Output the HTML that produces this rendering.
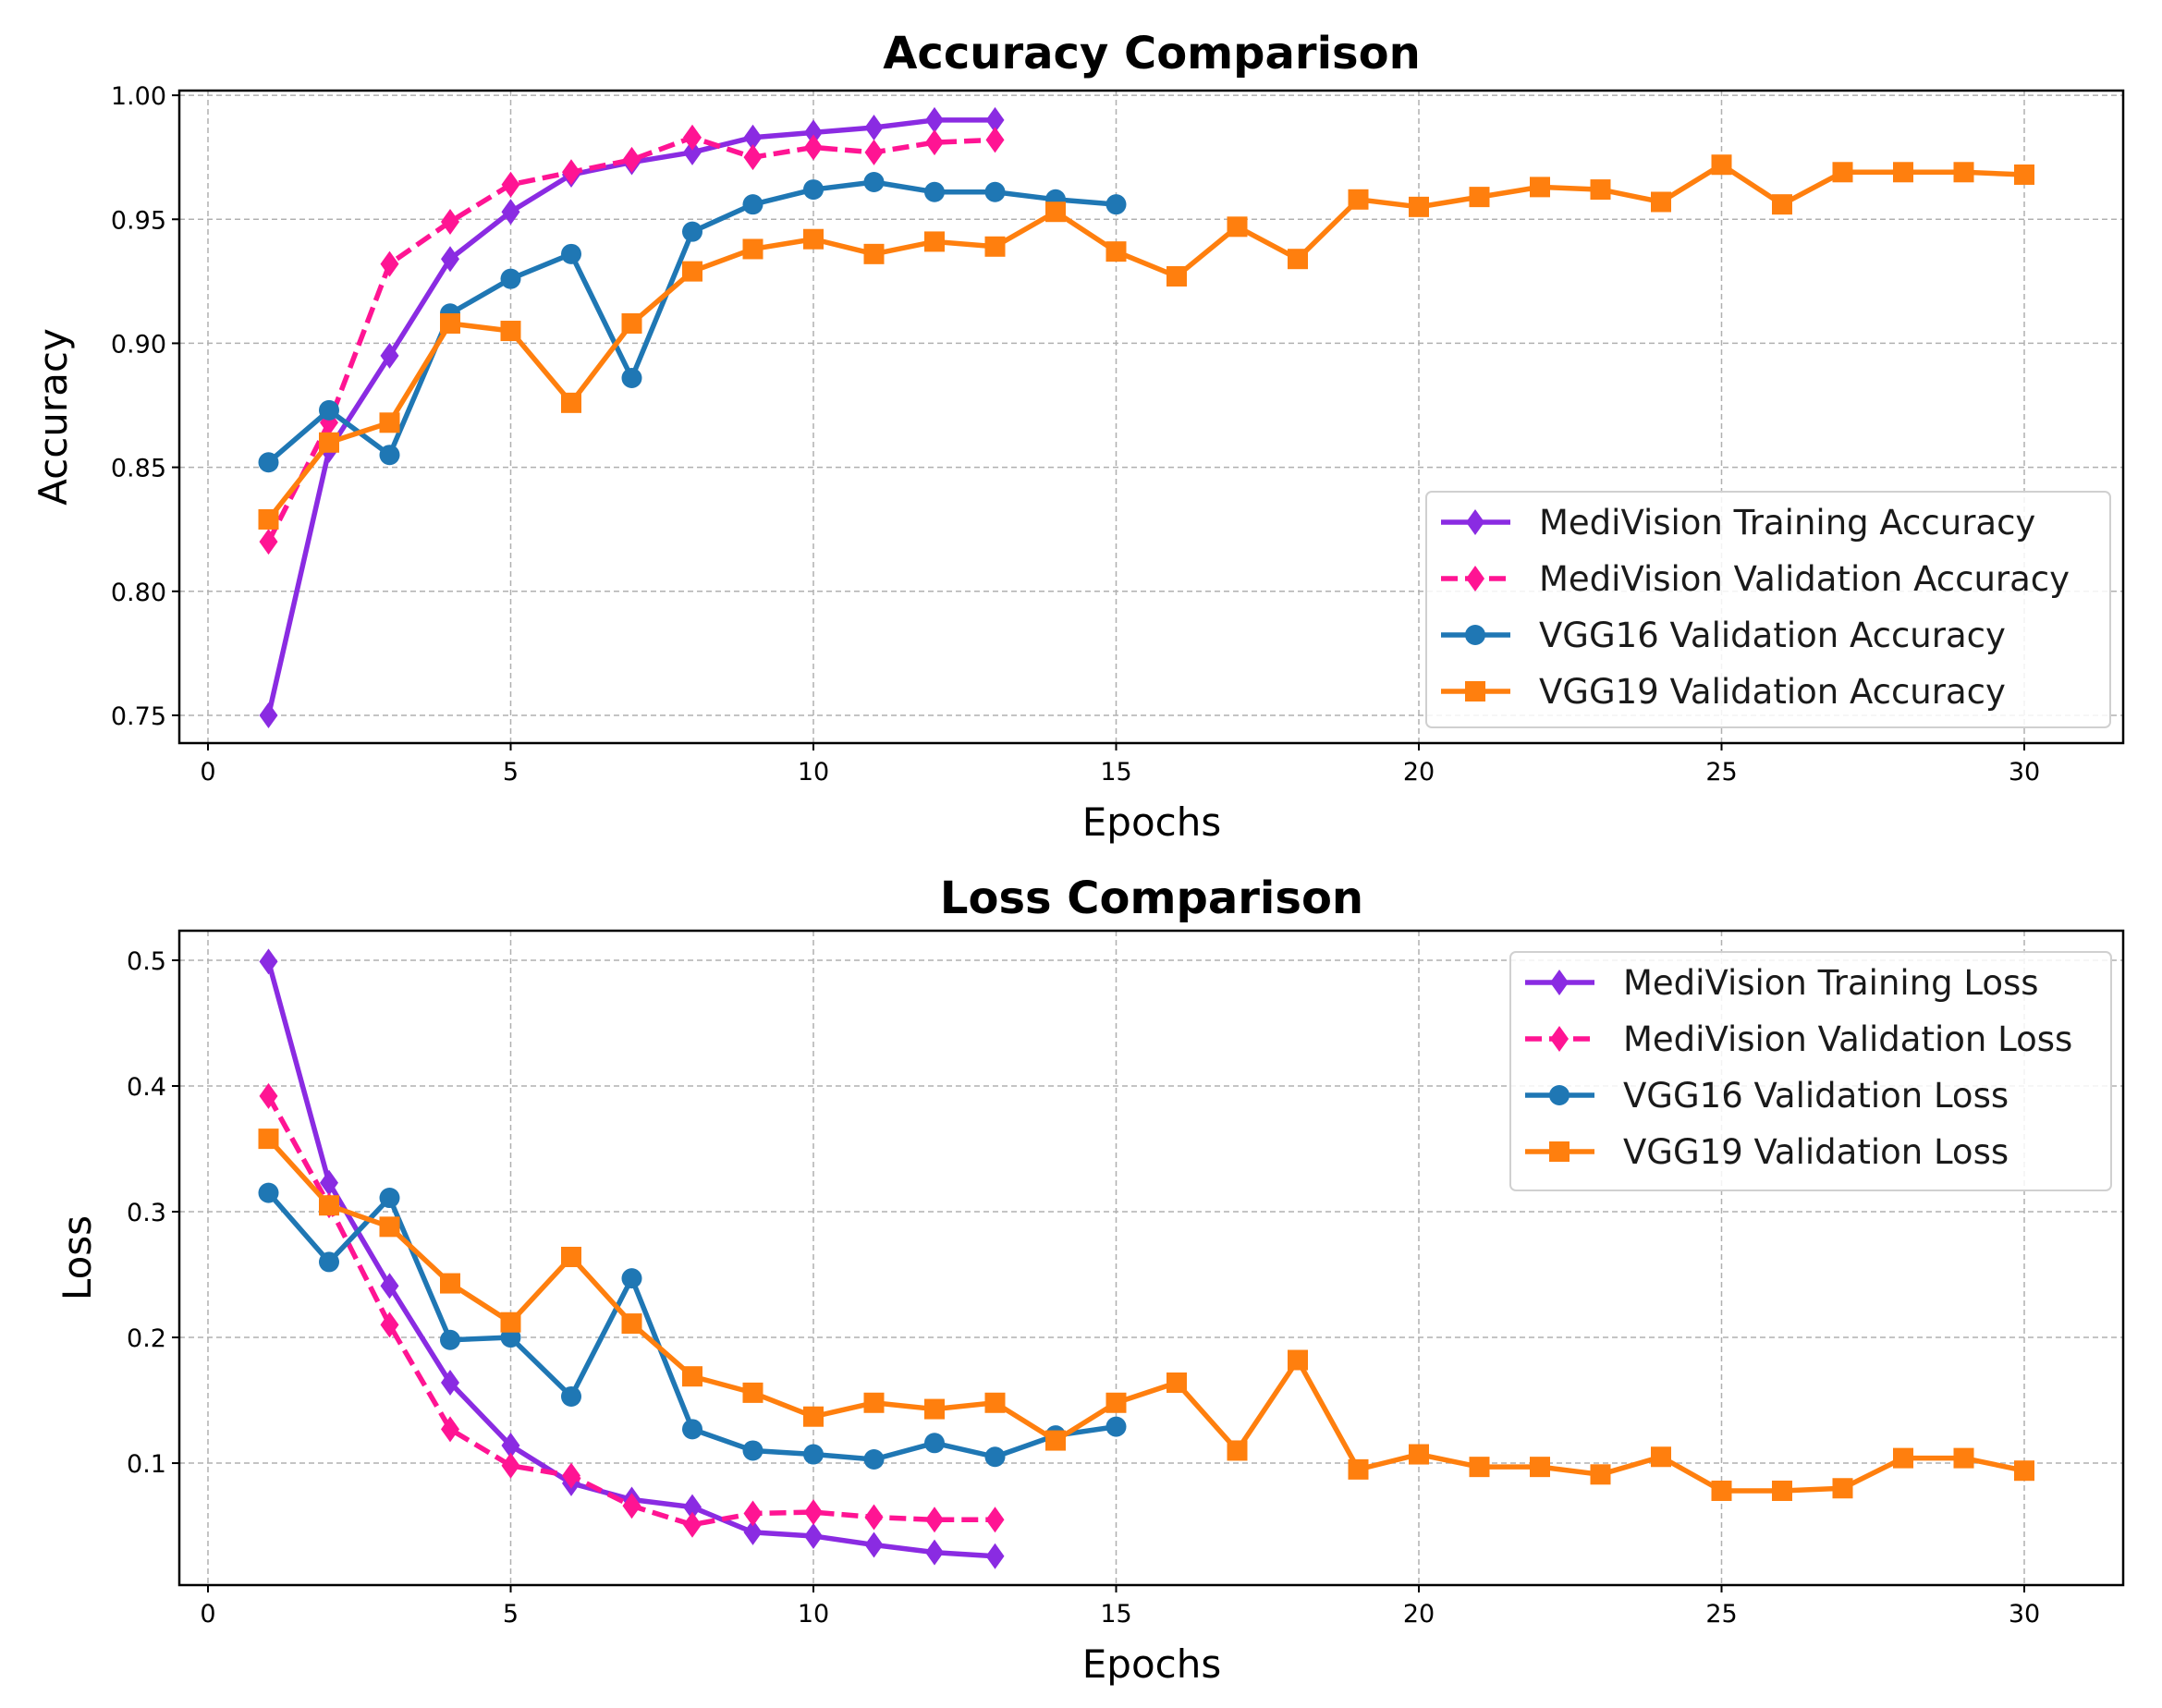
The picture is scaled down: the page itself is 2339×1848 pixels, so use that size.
<!DOCTYPE html>
<html><head><meta charset="utf-8"><style>
html,body{margin:0;padding:0;background:#fff;}
svg{display:block;font-family:"DejaVu Sans","Liberation Sans",sans-serif;}
</style></head><body>
<svg id="chart" width="2339" height="1848" viewBox="0 0 2339 1848" xmlns="http://www.w3.org/2000/svg"></svg>
<script>
const epochs30 = [1,2,3,4,5,6,7,8,9,10,11,12,13,14,15,16,17,18,19,20,21,22,23,24,25,26,27,28,29,30];
const xTicks = [0,5,10,15,20,25,30];
const accTicks = [0.75,0.80,0.85,0.90,0.95,1.00];
const accTickLabels = ["0.75","0.80","0.85","0.90","0.95","1.00"];
const lossTicks = [0.1,0.2,0.3,0.4,0.5];
const lossTickLabels = ["0.1","0.2","0.3","0.4","0.5"];
const mvTrainAcc = [0.750,0.857,0.895,0.934,0.953,0.968,0.973,0.977,0.983,0.985,0.987,0.990,0.990];
const mvValAcc = [0.820,0.868,0.932,0.949,0.964,0.969,0.974,0.983,0.975,0.979,0.977,0.981,0.982];
const vgg16Acc = [0.852,0.873,0.855,0.912,0.926,0.936,0.886,0.945,0.956,0.962,0.965,0.961,0.961,0.958,0.956];
const vgg19Acc = [0.829,0.860,0.868,0.908,0.905,0.876,0.908,0.929,0.938,0.942,0.936,0.941,0.939,0.953,0.937,0.927,0.947,0.934,0.958,0.955,0.959,0.963,0.962,0.957,0.972,0.956,0.969,0.969,0.969,0.968];
const mvTrainLoss = [0.499,0.323,0.241,0.164,0.114,0.084,0.071,0.065,0.045,0.042,0.035,0.029,0.026];
const mvValLoss = [0.392,0.305,0.210,0.127,0.098,0.090,0.066,0.051,0.060,0.061,0.057,0.055,0.055];
const vgg16Loss = [0.315,0.260,0.311,0.198,0.200,0.153,0.247,0.127,0.110,0.107,0.103,0.116,0.105,0.122,0.129];
const vgg19Loss = [0.358,0.305,0.288,0.243,0.212,0.264,0.211,0.169,0.156,0.137,0.148,0.143,0.148,0.118,0.148,0.164,0.110,0.182,0.095,0.107,0.097,0.097,0.091,0.105,0.078,0.078,0.080,0.104,0.104,0.094];

const NS = "http://www.w3.org/2000/svg";
const svg = document.getElementById('chart');
function mk(tag, attrs, parent, text){
  const e = document.createElementNS(NS, tag);
  for (const k in attrs) e.setAttribute(k, attrs[k]);
  if (text !== undefined) e.textContent = text;
  (parent||svg).appendChild(e);
  return e;
}
const L = 194, R = 2297;
const xs = e => 225 + 65.5*e;
const C = {train:'#8a2be2', val:'#ff1493', v16:'#1f77b4', v19:'#ff7f0e'};

function marker(g, type, x, y, color){
  let m;
  if (type==='d') m = mk('polygon',{points:`${x},${y-14} ${x+10},${y} ${x},${y+14} ${x-10},${y}`,fill:color},g);
  else if (type==='o') m = mk('circle',{cx:x,cy:y,r:11,fill:color},g);
  else m = mk('rect',{x:x-11,y:y-11,width:22,height:22,fill:color},g);
  return m;
}

function panel(cfg){
  const g = mk('g',{});
  
  
  const ys = v => cfg.top + (cfg.vmax - v)/(cfg.vmax - cfg.vmin)*(cfg.bottom-cfg.top);
  xTicks.forEach(t=>{
    const gl = mk('line',{x1:xs(t),x2:xs(t),y1:cfg.top,y2:cfg.bottom,stroke:'#b0b0b0','stroke-width':1.5,'stroke-dasharray':'6,4'},g);
    
    
  });
  cfg.ticks.forEach(t=>{
    const gl = mk('line',{x1:L,x2:R,y1:ys(t),y2:ys(t),stroke:'#b0b0b0','stroke-width':1.5,'stroke-dasharray':'6,4'},g);
    
    
  });
  cfg.series.forEach(s=>{
    const sg = mk('g',{},g);
    
    
    const pts = s.data.map((v,i)=>`${xs(epochs30[i])},${ys(v)}`).join(' ');
    const at = {points:pts,fill:'none',stroke:s.color,'stroke-width':5.5,'stroke-linejoin':'round'};
    if (s.dash) at['stroke-dasharray'] = '18,8';
    mk('polyline',at,sg);
    s.data.forEach((v,i)=>{
      const m = marker(sg, s.m, xs(epochs30[i]), ys(v), s.color);
      
      
    });
  });
  const fr = mk('rect',{x:L,y:cfg.top,width:R-L,height:cfg.bottom-cfg.top,fill:'none',stroke:'#000','stroke-width':2.5},g);
  
  
  xTicks.forEach(t=>{
    mk('line',{x1:xs(t),x2:xs(t),y1:cfg.bottom,y2:cfg.bottom+8,stroke:'#000','stroke-width':2},g);
    const tl = mk('text',{x:xs(t),y:cfg.bottom+40,'text-anchor':'middle','font-size':27,fill:'#000'},g,String(t));
    
    
  });
  cfg.ticks.forEach((t,i)=>{
    mk('line',{x1:L-8,x2:L,y1:ys(t),y2:ys(t),stroke:'#000','stroke-width':2},g);
    const tl = mk('text',{x:L-14,y:ys(t)+10,'text-anchor':'end','font-size':27,fill:'#000'},g,cfg.tickLabels[i]);
    
    
  });
  const ti = mk('text',{x:1246,y:cfg.titleY,'text-anchor':'middle','font-size':48,'font-weight':'bold',fill:'#000'},g,cfg.title);
  
  
  const xl = mk('text',{x:1246,y:cfg.bottom+100,'text-anchor':'middle','font-size':42,fill:'#000'},g,'Epochs');
  
  
  const yc = (cfg.top+cfg.bottom)/2;
  const yl = mk('text',{x:cfg.ylx,y:yc,'text-anchor':'middle','font-size':42,fill:'#000',transform:`rotate(-90 ${cfg.ylx} ${yc})`},g,cfg.ylabel);
  
  
  const lg = mk('g',{},g);
  
  
  const b = cfg.legend;
  mk('rect',{x:b.x,y:b.y,width:b.w,height:b.h,rx:6,fill:'#fff','fill-opacity':0.85,stroke:'#d0d0d0','stroke-width':2},lg);
  cfg.series.forEach((s,i)=>{
    const eg = mk('g',{},lg);
    
    
    const y = b.y + 33 + i*61;
    const at = {x1:b.x+16,x2:b.x+91,y1:y,y2:y,stroke:s.color,'stroke-width':5.5};
    if (s.dash) at['stroke-dasharray'] = '18,8';
    mk('line',at,eg);
    marker(eg, s.m, b.x+53, y, s.color);
    mk('text',{x:b.x+122,y:y+13,'font-size':37,fill:'#1a1a1a'},eg,s.label);
  });
}

panel({name:'accuracy-chart',top:98,bottom:804,vmin:0.7388,vmax:1.0019,ticks:accTicks,tickLabels:accTickLabels,
  title:'Accuracy Comparison',titleY:74,ylabel:'Accuracy',ylx:72,
  legend:{x:1543,y:532,w:740,h:255},
  series:[
    {name:'medivision-training-accuracy',label:'MediVision Training Accuracy',data:mvTrainAcc,color:C.train,m:'d'},
    {name:'medivision-validation-accuracy',label:'MediVision Validation Accuracy',data:mvValAcc,color:C.val,m:'d',dash:true},
    {name:'vgg16-validation-accuracy',label:'VGG16 Validation Accuracy',data:vgg16Acc,color:C.v16,m:'o'},
    {name:'vgg19-validation-accuracy',label:'VGG19 Validation Accuracy',data:vgg19Acc,color:C.v19,m:'s'}
  ]});
panel({name:'loss-chart',top:1007,bottom:1715,vmin:0.003,vmax:0.5235,ticks:lossTicks,tickLabels:lossTickLabels,
  title:'Loss Comparison',titleY:988,ylabel:'Loss',ylx:98,
  legend:{x:1634,y:1030,w:650,h:258},
  series:[
    {name:'medivision-training-loss',label:'MediVision Training Loss',data:mvTrainLoss,color:C.train,m:'d'},
    {name:'medivision-validation-loss',label:'MediVision Validation Loss',data:mvValLoss,color:C.val,m:'d',dash:true},
    {name:'vgg16-validation-loss',label:'VGG16 Validation Loss',data:vgg16Loss,color:C.v16,m:'o'},
    {name:'vgg19-validation-loss',label:'VGG19 Validation Loss',data:vgg19Loss,color:C.v19,m:'s'}
  ]});
</script>
</body></html>
